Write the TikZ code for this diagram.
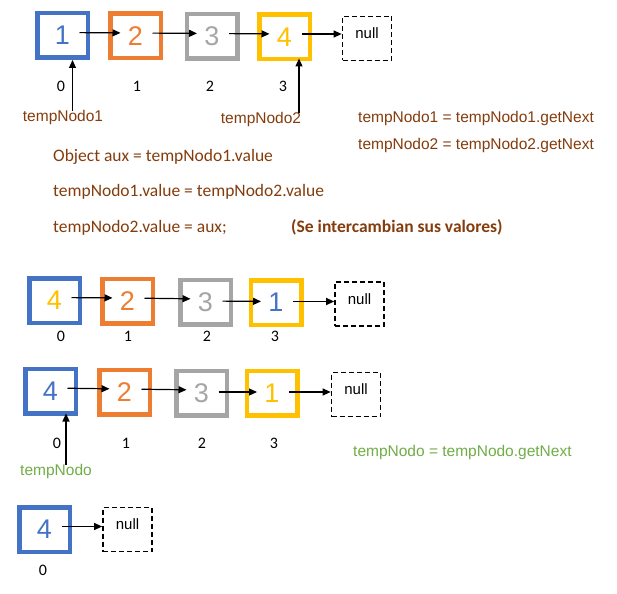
\documentclass[tikz,border=0pt]{standalone}
\usepackage{fontspec}
\setmainfont{Liberation Sans}
\newfontfamily\calibri{Carlito}
\usetikzlibrary{arrows.meta}

\definecolor{cblue}{HTML}{4472C4}
\definecolor{corange}{HTML}{ED7D31}
\definecolor{cgray}{HTML}{A5A5A5}
\definecolor{cyellow}{HTML}{FFC000}
\definecolor{cbrown}{HTML}{843C0C}
\definecolor{cgreen}{HTML}{70AD47}

\tikzset{
  cell/.style={draw=#1, line width=4.5pt, minimum width=50.5pt, minimum height=44.5pt,
               inner sep=0pt, font=\fontsize{27}{30}\selectfont},
  nullbox/.style={draw, dashed, dash pattern=on 5pt off 3pt, line width=1.7pt,
                  minimum width=49pt, minimum height=44pt, inner sep=0pt,
                  text depth=10pt, font=\fontsize{15}{18}\selectfont},
  idx/.style={inner sep=0pt, font=\calibri\fontsize{16}{18}\selectfont},
  link/.style={-{Triangle[length=8pt,width=7pt]}, line width=1.2pt},
  ptr/.style={-{Triangle[length=8pt,width=7pt]}, line width=1.2pt},
  lbl/.style={inner sep=0pt, text=cbrown, font=\fontsize{15.5}{18}\selectfont},
  code/.style={inner sep=0pt, anchor=west, text=cbrown, font=\calibri\fontsize{17.5}{20}\selectfont},
}

\begin{document}
\begin{tikzpicture}[x=1pt,y=-1pt]
\useasboundingbox (0,0) rectangle (617,593);

% ---- original list 1 2 3 4 ----
\node[cell=cblue,   text=cblue]   (a1) at (62.5,35.5) {1};
\node[cell=corange, text=corange] (a2) at (135.5,36) {2};
\node[cell=cgray,   text=cgray]   (a3) at (212,36.5) {3};
\node[cell=cyellow, text=cyellow] (a4) at (284.5,37) {4};
\node[nullbox] (an) at (367,38.5) {null};
\draw[link, shorten <=17pt, shorten >=15pt] ([yshift=3pt]a1.center) -- ([yshift=3pt]a2.center);
\draw[link, shorten <=17pt, shorten >=15pt] ([yshift=3pt]a2.center) -- ([yshift=3pt]a3.center);
\draw[link, shorten <=17pt, shorten >=15pt] ([yshift=3pt]a3.center) -- ([yshift=3pt]a4.center);
\draw[link, shorten <=17pt] ([yshift=3pt]a4.center) coordinate (a4o) -- (a4o -| an.west);
\node[idx] (ai0) at (61,86) {0};
\node[idx] (ai1) at (137,86) {1};
\node[idx] (ai2) at (210,86) {2};
\node[idx] (ai3) at (283,86) {3};

% pointers
\node[lbl] (t1) at (63,117) {tempNodo1};
\node[lbl] (t2) at (261,119) {tempNodo2};
\draw[ptr] ([xshift=9.5pt,yshift=-1pt]t1.north) coordinate (t1s) -- (t1s |- a1.south);
\draw[ptr] ([xshift=38pt,yshift=-1pt]t2.north) coordinate (t2s) -- ([yshift=3pt]t2s |- a4.south);

\node[lbl, anchor=west] (adv1) at (358,118) {tempNodo1 = tempNodo1.getNext};
\node[lbl, anchor=west] (adv2) at (358,145) {tempNodo2 = tempNodo2.getNext};

% swap code
\node[code] (c1) at (53,157) {Object aux = tempNodo1.value};
\node[code] (c2) at (53,192) {tempNodo1.value = tempNodo2.value};
\node[code] (c3) at (53,228) {tempNodo2.value = aux;};
\node[code, font=\calibri\bfseries\fontsize{17.5}{20}\selectfont] (c4) at (291,227) {(Se intercambian sus valores)};

% ---- list after swap 4 2 3 1 ----
\node[cell=cblue,   text=cyellow] (b1) at (54.5,300.5) {4};
\node[cell=corange, text=corange] (b2) at (127.5,301) {2};
\node[cell=cgray,   text=cgray]   (b3) at (205.5,302) {3};
\node[cell=cyellow, text=cblue]   (b4) at (276,302.5) {1};
\node[nullbox] (bn) at (359.5,304) {null};
\draw[link, shorten <=17pt, shorten >=15pt] ([yshift=3pt]b1.center) -- ([yshift=3pt]b2.center);
\draw[link, shorten <=17pt, shorten >=15pt] ([yshift=3pt]b2.center) -- ([yshift=3pt]b3.center);
\draw[link, shorten <=17pt, shorten >=15pt] ([yshift=1pt]b3.center) -- ([yshift=1pt]b4.center);
\draw[link, shorten <=17pt] ([yshift=1pt]b4.center) coordinate (b4o) -- (b4o -| bn.west);
\node[idx] (bi0) at (61,336) {0};
\node[idx] (bi1) at (128,336) {1};
\node[idx] (bi2) at (207,336) {2};
\node[idx] (bi3) at (275,336) {3};

% ---- list walked with tempNodo ----
\node[cell=cblue,   text=cblue]   (d1) at (50.5,391) {4};
\node[cell=corange, text=corange] (d2) at (124.5,392) {2};
\node[cell=cgray,   text=cgray]   (d3) at (201.5,393) {3};
\node[cell=cyellow, text=cyellow] (d4) at (272,393) {1};
\node[nullbox] (dn) at (356,394.5) {null};
\draw[link, shorten <=17pt, shorten >=15pt] ([yshift=3pt]d1.center) -- ([yshift=3pt]d2.center);
\draw[link, shorten <=17pt, shorten >=15pt] ([yshift=3pt]d2.center) -- ([yshift=3pt]d3.center);
\draw[link, shorten <=17pt, shorten >=15pt] ([yshift=1pt]d3.center) -- ([yshift=1pt]d4.center);
\draw[link, shorten <=17pt] ([yshift=1pt]d4.center) coordinate (d4o) -- (d4o -| dn.west);
\node[idx] (di0) at (57,443) {0};
\node[idx] (di1) at (126,443) {1};
\node[idx] (di2) at (202,443) {2};
\node[idx] (di3) at (274,443) {3};

\node[lbl, text=cgreen] (tn) at (56,471) {tempNodo};
\draw[ptr] ([xshift=10pt,yshift=-1pt]tn.north) coordinate (tns) -- ([yshift=2pt]tns |- d1.south);
\node[lbl, text=cgreen, anchor=west] (adv3) at (353,452) {tempNodo = tempNodo.getNext};

% ---- single remaining node ----
\node[cell=cblue, text=cblue] (e1) at (44.5,529.5) {4};
\node[nullbox] (en) at (127.5,529.5) {null};
\draw[link, shorten <=17pt] ([yshift=3pt]e1.center) coordinate (e1o) -- (e1o -| en.west);
\node[idx] (ei0) at (43,570) {0};
\end{tikzpicture}
\end{document}
